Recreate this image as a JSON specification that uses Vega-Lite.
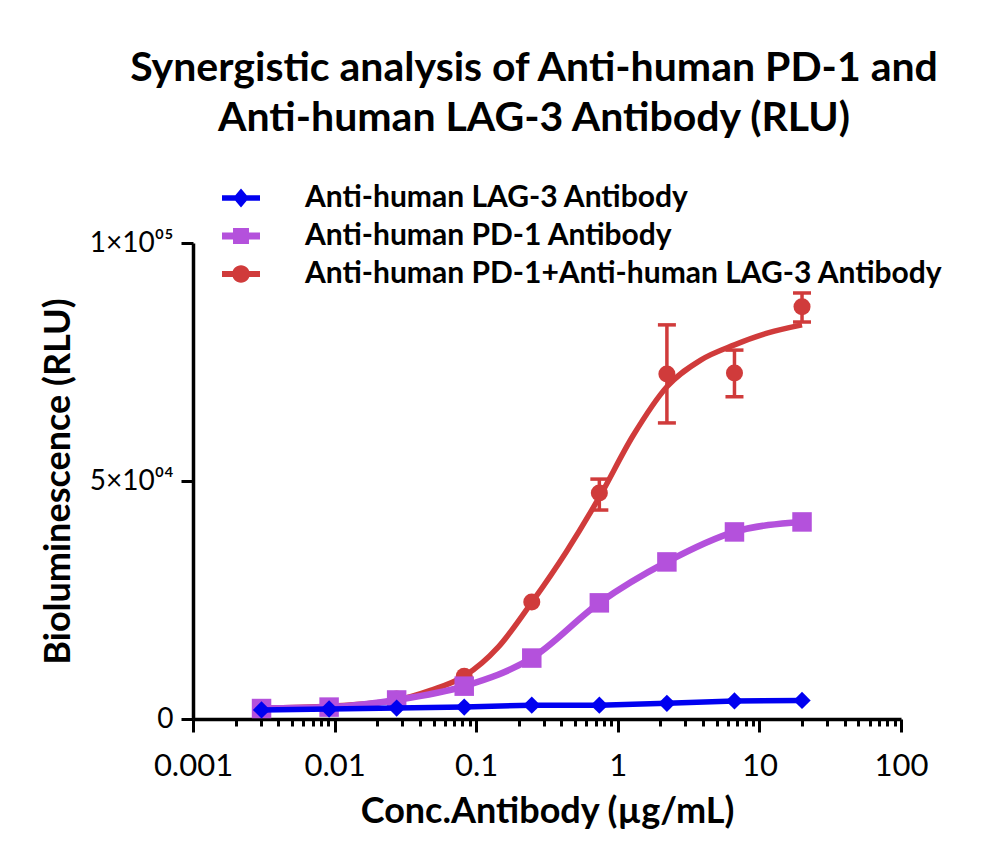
{
  "$schema": "https://vega.github.io/schema/vega-lite/v6.json",
  "width": 708,
  "height": 476,
  "autosize": "none",
  "padding": {"left": 193, "top": 243, "right": 99, "bottom": 144},
  "background": "white",
  "config": {
    "font": "Lato",
    "view": {"stroke": null}
  },
  "title": {
    "text": ["Synergistic analysis of Anti-human PD-1 and", "Anti-human LAG-3 Antibody (RLU)"],
    "anchor": "middle",
    "frame": "group",
    "dx": -13,
    "font": "Lato",
    "fontSize": 41,
    "fontWeight": "bold",
    "color": "black",
    "lineHeight": 50,
    "offset": 39
  },
  "datasets": {
    "pts": [
      {"series": "combo", "conc": 0.003048, "rlu": 2300},
      {"series": "combo", "conc": 0.009145, "rlu": 2600},
      {"series": "combo", "conc": 0.02743, "rlu": 4200},
      {"series": "combo", "conc": 0.0823, "rlu": 9000},
      {"series": "combo", "conc": 0.2469, "rlu": 24600},
      {"series": "combo", "conc": 0.7407, "rlu": 47500, "lo": 43900, "hi": 50400},
      {"series": "combo", "conc": 2.222, "rlu": 72500, "lo": 62200, "hi": 82800},
      {"series": "combo", "conc": 6.667, "rlu": 72700, "lo": 67700, "hi": 77500},
      {"series": "combo", "conc": 20, "rlu": 86600, "lo": 83400, "hi": 89500},
      {"series": "pd1", "conc": 0.003048, "rlu": 2200},
      {"series": "pd1", "conc": 0.009145, "rlu": 2500},
      {"series": "pd1", "conc": 0.02743, "rlu": 4000},
      {"series": "pd1", "conc": 0.0823, "rlu": 6900},
      {"series": "pd1", "conc": 0.2469, "rlu": 12800},
      {"series": "pd1", "conc": 0.7407, "rlu": 24400},
      {"series": "pd1", "conc": 2.222, "rlu": 33000},
      {"series": "pd1", "conc": 6.667, "rlu": 39300},
      {"series": "pd1", "conc": 20, "rlu": 41400},
      {"series": "lag3", "conc": 0.003048, "rlu": 1900},
      {"series": "lag3", "conc": 0.009145, "rlu": 2100},
      {"series": "lag3", "conc": 0.02743, "rlu": 2300},
      {"series": "lag3", "conc": 0.0823, "rlu": 2500},
      {"series": "lag3", "conc": 0.2469, "rlu": 2900},
      {"series": "lag3", "conc": 0.7407, "rlu": 2900},
      {"series": "lag3", "conc": 2.222, "rlu": 3300},
      {"series": "lag3", "conc": 6.667, "rlu": 3800},
      {"series": "lag3", "conc": 20, "rlu": 3900}
    ],
    "fit": [
      {"conc": 0.003048, "rlu": 2300},
      {"conc": 0.009145, "rlu": 2700},
      {"conc": 0.02743, "rlu": 4000},
      {"conc": 0.0475, "rlu": 6000},
      {"conc": 0.0823, "rlu": 9000},
      {"conc": 0.143, "rlu": 15100},
      {"conc": 0.2469, "rlu": 24500},
      {"conc": 0.43, "rlu": 35000},
      {"conc": 0.7407, "rlu": 46600},
      {"conc": 1.28, "rlu": 59500},
      {"conc": 2.222, "rlu": 69800},
      {"conc": 3.85, "rlu": 75400},
      {"conc": 6.667, "rlu": 78600},
      {"conc": 11.5, "rlu": 81100},
      {"conc": 20, "rlu": 82800}
    ],
    "legend": [
      {"name": "Anti-human LAG-3 Antibody"}
    ]
  },
  "encoding": {
    "x": {
      "field": "conc",
      "type": "quantitative",
      "scale": {"type": "log", "domain": [0.001, 100], "nice": false},
      "axis": {
        "title": "Conc.Antibody (µg/mL)",
        "titleFont": "Lato",
        "titleFontSize": 36,
        "titleFontWeight": "bold",
        "titleColor": "black",
        "titlePadding": 13,
        "values": [0.001,0.002,0.003,0.004,0.005,0.006,0.007,0.008,0.009,0.01,0.02,0.03,0.04,0.05,0.06,0.07,0.08,0.09,0.1,0.2,0.3,0.4,0.5,0.6,0.7,0.8,0.9,1,2,3,4,5,6,7,8,9,10,20,30,40,50,60,70,80,90,100],
        "labelExpr": "abs(log(datum.value)/LN10 - round(log(datum.value)/LN10)) < 0.001 ? format(datum.value, '~g') : ''",
        "labelFont": "Lato",
        "labelFontSize": 31,
        "labelColor": "black",
        "labelPadding": 19,
        "labelFlush": false,
        "labelOverlap": false,
        "tickSize": {"condition": {"test": "abs(log(datum.value)/LN10 - round(log(datum.value)/LN10)) < 0.001", "value": 13}, "value": 7},
        "tickWidth": 3,
        "tickColor": "black",
        "domainColor": "black",
        "domainWidth": 3.5,
        "grid": false
      }
    },
    "y": {
      "field": "rlu",
      "type": "quantitative",
      "scale": {"domain": [0, 100000], "nice": false},
      "axis": {
        "title": "Bioluminescence (RLU)",
        "titleFont": "Lato",
        "titleFontSize": 36,
        "titleFontWeight": "bold",
        "titleColor": "black",
        "titlePadding": 12,
        "values": [0, 50000, 100000],
        "labelExpr": "datum.value == 0 ? '0' : (datum.value == 50000 ? '5×10⁰⁴' : '1×10⁰⁵')",
        "labelFont": "Lato",
        "labelFontSize": 28,
        "labelColor": "black",
        "labelPadding": 8,
        "labelFlush": false,
        "tickSize": 12,
        "tickWidth": 3,
        "tickColor": "black",
        "domainColor": "black",
        "domainWidth": 3.5,
        "grid": false
      }
    }
  },
  "layer": [
    {
      "data": {"name": "fit"},
      "mark": {"type": "line", "color": "#D03B3B", "strokeWidth": 5.5, "interpolate": "monotone"}
    },
    {
      "data": {"name": "pts"},
      "transform": [{"filter": "datum.series == 'combo' && isValid(datum.lo)"}],
      "mark": {"type": "errorbar", "color": "#D03B3B", "thickness": 3.5, "rule": {"color": "#D03B3B", "opacity": 1, "strokeWidth": 3.5}, "ticks": {"size": 18, "thickness": 3.5, "color": "#D03B3B", "opacity": 1}},
      "encoding": {
        "y": {"field": "lo", "type": "quantitative"},
        "y2": {"field": "hi"}
      }
    },
    {
      "data": {"name": "pts"},
      "transform": [{"filter": "datum.series == 'combo'"}],
      "mark": {"type": "point", "shape": "circle", "filled": true, "color": "#D03B3B", "size": 290, "opacity": 1}
    },
    {
      "data": {"name": "pts"},
      "transform": [{"filter": "datum.series == 'pd1'"}],
      "mark": {"type": "line", "color": "#B451DC", "strokeWidth": 6.5, "interpolate": "monotone"}
    },
    {
      "data": {"name": "pts"},
      "transform": [{"filter": "datum.series == 'pd1'"}],
      "mark": {"type": "point", "shape": "square", "filled": true, "color": "#B451DC", "size": 380, "opacity": 1}
    },
    {
      "data": {"name": "pts"},
      "transform": [{"filter": "datum.series == 'lag3'"}],
      "mark": {"type": "line", "color": "#0000F0", "strokeWidth": 5.5}
    },
    {
      "data": {"name": "pts"},
      "transform": [{"filter": "datum.series == 'lag3'"}],
      "mark": {"type": "point", "shape": "diamond", "filled": true, "color": "#0000F0", "size": 300, "opacity": 1}
    },
    {
      "data": {"name": "legend"},
      "transform": [{"filter": "false"}],
      "mark": {"type": "point", "filled": true, "opacity": 1},
      "encoding": {
        "x": {"datum": 1, "type": "quantitative"},
        "y": {"datum": 1, "type": "quantitative"},
        "fill": {
          "field": "name",
          "type": "nominal",
          "scale": {
            "domain": ["Anti-human LAG-3 Antibody", "Anti-human PD-1 Antibody", "Anti-human PD-1+Anti-human LAG-3 Antibody"],
            "range": ["#0000F0", "#B451DC", "#D03B3B"]
          },
          "legend": {
            "title": null,
            "orient": "none",
            "legendX": 29,
            "legendY": -64,
            "padding": 0,
            "rowPadding": 4,
            "symbolSize": 1444,
            "symbolStrokeWidth": 0,
            "symbolOpacity": 1,
            "labelFont": "Lato",
            "labelFontSize": 30,
            "labelFontWeight": "bold",
            "labelColor": "black",
            "labelOffset": 45,
            "labelLimit": 0
          }
        },
        "shape": {
          "field": "name",
          "type": "nominal",
          "scale": {
            "domain": ["Anti-human LAG-3 Antibody", "Anti-human PD-1 Antibody", "Anti-human PD-1+Anti-human LAG-3 Antibody"],
            "range": [
              "M-1,-0.15L1,-0.15L1,0.15L-1,0.15Z M0,-0.5L0.42,0L0,0.5L-0.42,0Z",
              "M-1,-0.19L1,-0.19L1,0.19L-1,0.19Z M-0.42,-0.42L0.42,-0.42L0.42,0.42L-0.42,0.42Z",
              "M-1,-0.16L1,-0.16L1,0.16L-1,0.16Z M-0.46,0A0.46,0.46 0 1,1 0.46,0A0.46,0.46 0 1,1 -0.46,0Z"
            ]
          },
          "legend": {
            "title": null,
            "orient": "none",
            "legendX": 29,
            "legendY": -64,
            "padding": 0,
            "rowPadding": 4,
            "symbolSize": 1444,
            "symbolStrokeWidth": 0,
            "symbolOpacity": 1,
            "labelFont": "Lato",
            "labelFontSize": 30,
            "labelFontWeight": "bold",
            "labelColor": "black",
            "labelOffset": 45,
            "labelLimit": 0
          }
        }
      }
    }
  ]
}
